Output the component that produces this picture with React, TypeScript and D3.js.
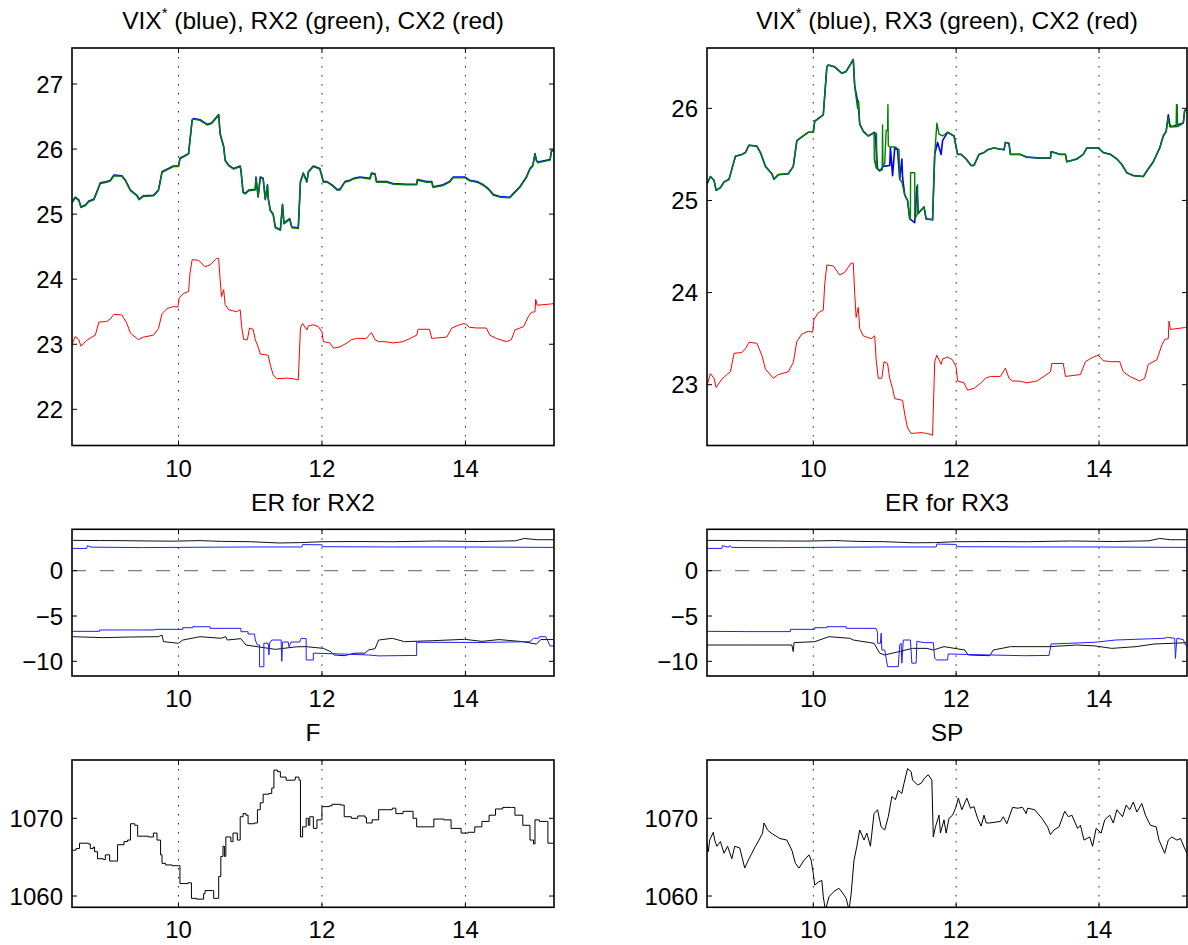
import React from 'react';
import * as d3 from 'd3';

type Pt = [number, number];

// hours on the x axis
const xTicks = [10, 12, 14];

// VIX* (blue), same series in both top panels
const vix: Pt[] = [
  [8.52,25.19],[8.56,25.26],[8.61,25.22],[8.64,25.11],[8.70,25.14],[8.75,25.20],[8.82,25.23],[8.86,25.34],[8.91,25.48],[9.00,25.50],
  [9.05,25.52],[9.10,25.60],[9.21,25.59],[9.26,25.52],[9.33,25.37],[9.42,25.29],[9.45,25.23],[9.51,25.28],[9.65,25.29],[9.72,25.37],
  [9.77,25.65],[9.84,25.69],[9.93,25.74],[10.00,25.74],[10.02,25.86],[10.14,25.93],[10.19,26.45],[10.21,26.47],[10.30,26.45],[10.40,26.38],
  [10.46,26.40],[10.56,26.53],[10.58,26.24],[10.63,26.04],[10.65,25.83],[10.70,25.75],[10.77,25.70],[10.86,25.74],[10.87,25.68],[10.90,25.34],
  [10.93,25.32],[10.98,25.37],[11.07,25.38],[11.08,25.57],[11.11,25.27],[11.14,25.57],[11.18,25.55],[11.21,25.23],[11.24,25.45],[11.25,25.25],
  [11.28,25.06],[11.32,25.00],[11.35,24.80],[11.42,24.76],[11.45,25.15],[11.47,24.86],[11.55,24.93],[11.58,24.80],[11.67,24.79],[11.70,25.50],
  [11.74,25.63],[11.79,25.50],[11.81,25.65],[11.88,25.74],[11.97,25.70],[12.02,25.50],[12.07,25.50],[12.14,25.45],[12.21,25.38],[12.25,25.38],
  [12.32,25.50],[12.39,25.52],[12.44,25.55],[12.53,25.57],[12.67,25.55],[12.69,25.63],[12.74,25.62],[12.76,25.50],[12.90,25.50],[12.99,25.47],
  [13.18,25.46],[13.32,25.46],[13.33,25.53],[13.46,25.50],[13.53,25.50],[13.55,25.42],[13.69,25.45],[13.78,25.50],[13.83,25.57],[13.99,25.57],
  [14.06,25.52],[14.16,25.50],[14.25,25.45],[14.32,25.39],[14.39,25.30],[14.48,25.27],[14.62,25.26],[14.67,25.32],[14.76,25.42],[14.85,25.57],
  [14.90,25.70],[14.94,25.75],[14.97,25.93],[14.99,25.83],[15.01,25.80],[15.18,25.84],[15.20,25.98],[15.24,25.98],
];

// RX2 (green), left top panel
const rx2: Pt[] = [
  [8.52,25.18],[8.56,25.25],[8.61,25.21],[8.64,25.10],[8.70,25.13],[8.75,25.19],[8.82,25.22],[8.86,25.33],[8.91,25.47],[9.00,25.49],
  [9.05,25.51],[9.10,25.59],[9.21,25.58],[9.26,25.51],[9.33,25.36],[9.42,25.28],[9.45,25.22],[9.51,25.27],[9.65,25.28],[9.72,25.36],
  [9.77,25.64],[9.84,25.68],[9.93,25.73],[10.00,25.73],[10.02,25.85],[10.14,25.92],[10.19,26.44],[10.21,26.46],[10.30,26.44],[10.40,26.37],
  [10.46,26.39],[10.56,26.52],[10.58,26.23],[10.63,26.03],[10.65,25.82],[10.70,25.74],[10.77,25.69],[10.86,25.73],[10.87,25.67],[10.90,25.33],
  [10.93,25.31],[10.98,25.36],[11.07,25.37],[11.08,25.56],[11.11,25.26],[11.14,25.56],[11.18,25.54],[11.21,25.22],[11.24,25.44],[11.25,25.24],
  [11.28,25.05],[11.32,24.99],[11.35,24.79],[11.42,24.75],[11.45,25.14],[11.47,24.85],[11.55,24.92],[11.58,24.79],[11.67,24.78],[11.70,25.49],
  [11.74,25.62],[11.79,25.49],[11.81,25.64],[11.88,25.73],[11.97,25.69],[12.02,25.49],[12.07,25.49],[12.14,25.44],[12.21,25.37],[12.25,25.37],
  [12.32,25.49],[12.39,25.51],[12.44,25.54],[12.53,25.56],[12.67,25.54],[12.69,25.62],[12.74,25.61],[12.76,25.49],[12.90,25.49],[12.99,25.46],
  [13.18,25.45],[13.32,25.45],[13.33,25.52],[13.46,25.49],[13.53,25.49],[13.55,25.41],[13.69,25.44],[13.78,25.49],[13.83,25.56],[13.99,25.56],
  [14.06,25.51],[14.16,25.49],[14.25,25.44],[14.32,25.38],[14.39,25.29],[14.48,25.26],[14.62,25.25],[14.67,25.31],[14.76,25.41],[14.85,25.56],
  [14.90,25.69],[14.94,25.74],[14.97,25.92],[14.99,25.82],[15.01,25.79],[15.18,25.83],[15.20,25.97],[15.24,25.97],
];

// RX3 (green), right top panel
const rx3: Pt[] = [
  [8.51,25.18],[8.56,25.26],[8.61,25.22],[8.64,25.11],[8.70,25.14],[8.75,25.20],[8.82,25.23],[8.86,25.34],[8.91,25.48],[9.00,25.50],
  [9.05,25.52],[9.10,25.60],[9.21,25.59],[9.26,25.52],[9.33,25.37],[9.42,25.29],[9.45,25.23],[9.51,25.28],[9.65,25.29],[9.72,25.37],
  [9.77,25.65],[9.84,25.69],[9.93,25.74],[10.00,25.74],[10.02,25.86],[10.14,25.93],[10.19,26.45],[10.21,26.47],[10.30,26.45],[10.40,26.38],
  [10.46,26.40],[10.56,26.53],[10.58,26.24],[10.62,26.00],[10.635,26.08],[10.645,25.90],[10.65,25.83],[10.70,25.75],[10.77,25.70],[10.84,25.73],
  [10.85,25.73],[10.855,25.44],[10.88,25.35],[10.885,25.73],[10.89,25.35],[10.93,25.33],[10.965,25.33],[10.97,25.82],[10.975,25.38],[11.00,25.40],
  [11.02,25.76],[11.04,25.76],[11.045,26.04],[11.05,25.60],[11.07,25.58],[11.15,25.58],[11.20,25.55],[11.21,25.23],[11.24,25.20],[11.28,25.06],
  [11.32,25.00],[11.35,24.80],[11.36,24.80],[11.362,25.30],[11.42,25.30],[11.422,24.80],[11.455,24.85],[11.46,25.17],[11.465,24.86],[11.55,24.93],
  [11.58,24.80],[11.67,24.79],[11.70,25.50],[11.73,25.84],[11.76,25.72],[11.81,25.70],[11.88,25.74],[11.97,25.70],[12.02,25.50],[12.07,25.50],
  [12.14,25.45],[12.21,25.38],[12.25,25.38],[12.32,25.50],[12.39,25.52],[12.44,25.55],[12.53,25.57],[12.67,25.55],[12.69,25.63],[12.74,25.62],
  [12.76,25.50],[12.90,25.50],[12.99,25.47],[13.18,25.46],[13.32,25.46],[13.33,25.53],[13.46,25.50],[13.53,25.50],[13.55,25.42],[13.69,25.45],
  [13.78,25.50],[13.83,25.57],[13.99,25.57],[14.06,25.52],[14.16,25.50],[14.25,25.45],[14.32,25.39],[14.39,25.30],[14.48,25.27],[14.62,25.26],
  [14.67,25.32],[14.76,25.42],[14.85,25.57],[14.90,25.70],[14.94,25.75],[14.97,25.90],[14.99,25.80],[15.08,25.80],[15.085,26.04],[15.095,26.04],
  [15.10,25.80],[15.18,25.84],[15.20,25.98],[15.23,25.99],
];

// CX2 (red), same series in both top panels
const cx2: Pt[] = [
  [8.51,22.98],[8.52,23.01],[8.56,23.12],[8.61,23.07],[8.64,22.97],[8.72,23.06],[8.79,23.11],[8.84,23.14],[8.89,23.34],[9.00,23.35],[9.05,23.39],
  [9.10,23.46],[9.21,23.45],[9.28,23.32],[9.33,23.17],[9.44,23.07],[9.51,23.11],[9.65,23.14],[9.72,23.24],[9.77,23.47],[9.84,23.55],
  [9.93,23.58],[9.99,23.57],[10.01,23.71],[10.07,23.78],[10.14,23.81],[10.16,24.09],[10.19,24.30],[10.28,24.29],[10.37,24.19],[10.44,24.22],
  [10.53,24.32],[10.56,24.32],[10.58,23.99],[10.60,23.73],[10.63,23.84],[10.65,23.61],[10.70,23.53],[10.81,23.50],[10.86,23.53],[10.88,23.27],
  [10.91,23.07],[10.96,23.07],[10.99,23.25],[11.04,23.23],[11.07,23.07],[11.11,22.96],[11.14,22.85],[11.25,22.83],[11.28,22.68],[11.32,22.53],
  [11.37,22.47],[11.51,22.48],[11.60,22.47],[11.67,22.45],[11.70,23.25],[11.73,23.32],[11.79,23.22],[11.81,23.28],[11.88,23.30],[11.95,23.27],
  [12.00,23.19],[12.02,23.04],[12.11,23.02],[12.16,22.94],[12.25,22.96],[12.35,23.02],[12.41,23.07],[12.48,23.09],[12.62,23.09],[12.69,23.18],
  [12.74,23.07],[12.79,23.04],[12.88,23.04],[12.99,23.02],[13.13,23.04],[13.23,23.09],[13.32,23.14],[13.34,23.23],[13.50,23.23],[13.53,23.09],
  [13.74,23.11],[13.81,23.25],[13.92,23.30],[13.99,23.32],[14.06,23.26],[14.16,23.25],[14.29,23.25],[14.34,23.14],[14.43,23.09],[14.57,23.04],
  [14.64,23.07],[14.69,23.22],[14.81,23.27],[14.88,23.43],[14.92,23.49],[14.97,23.50],[14.98,23.69],[15.00,23.60],[15.20,23.62],[15.24,23.63],
];

// ER for RX2
const er2UpperBlack: Pt[] = [
  [8.52,3.35],[8.9,3.33],[9.2,3.32],[9.6,3.28],[9.9,3.26],[10.3,3.32],[10.6,3.24],[11.0,3.2],[11.4,3.06],[11.7,3.1],[12.0,3.2],
  [12.5,3.22],[13.0,3.2],[13.6,3.28],[14.2,3.22],[14.7,3.3],[14.82,3.56],[15.0,3.42],[15.24,3.42],
];
const er2UpperBlue: Pt[] = [
  [8.52,2.46],[8.72,2.46],[8.73,2.76],[8.78,2.6],[9.5,2.55],[10.5,2.6],[11.0,2.62],[11.72,2.62],[11.73,2.88],[12.0,2.86],
  [12.01,2.65],[13.0,2.62],[14.0,2.62],[15.24,2.57],
];
const er2LowerBlue: Pt[] = [
  [8.52,-6.69],[8.9,-6.69],[8.9,-6.54],[9.67,-6.54],[9.67,-6.47],[10.06,-6.47],[10.06,-6.29],[10.2,-6.29],[10.2,-6.18],[10.44,-6.18],
  [10.44,-6.36],[10.87,-6.36],[10.87,-6.73],[10.97,-6.73],[10.97,-6.99],[11.06,-6.99],[11.07,-7.65],[11.1,-8.2],[11.13,-8.2],[11.13,-10.6],
  [11.19,-10.6],[11.19,-8.0],[11.25,-8.0],[11.26,-9.3],[11.27,-8.0],[11.3,-7.65],[11.43,-7.65],[11.44,-10.0],[11.45,-7.87],[11.53,-7.87],
  [11.54,-8.4],[11.57,-7.87],[11.69,-7.87],[11.71,-7.46],[11.78,-7.5],[11.78,-9.85],[11.88,-9.85],[11.88,-9.1],[12.31,-9.2],[12.65,-9.3],
  [12.79,-9.4],[13.32,-9.35],[13.32,-7.9],[14.23,-7.92],[14.9,-7.83],[14.95,-7.46],[15.02,-7.46],[15.03,-7.28],[15.12,-7.28],[15.14,-7.6],
  [15.18,-8.3],[15.24,-8.3],
];
const er2LowerBlack: Pt[] = [
  [8.52,-7.28],[8.95,-7.39],[9.3,-7.32],[9.72,-7.28],[9.77,-7.1],[9.79,-7.83],[10.0,-8.01],[10.06,-7.65],[10.3,-7.28],[10.59,-7.46],
  [10.66,-7.28],[10.68,-7.65],[10.87,-7.5],[10.94,-8.2],[11.11,-8.4],[11.35,-8.68],[11.64,-8.4],[11.78,-8.38],[12.02,-8.57],[12.12,-8.93],
  [12.17,-9.3],[12.31,-9.38],[12.46,-9.1],[12.6,-9.1],[12.65,-8.75],[12.74,-8.6],[12.79,-7.65],[12.98,-7.46],[13.15,-7.83],[13.56,-7.72],
  [13.99,-7.57],[14.23,-7.8],[14.47,-7.6],[14.8,-7.83],[14.99,-8.1],[15.05,-7.6],[15.24,-7.6],
];

// ER for RX3
const er3UpperBlack: Pt[] = [
  [8.51,3.35],[8.9,3.33],[9.2,3.3],[9.6,3.28],[9.9,3.27],[10.3,3.33],[10.6,3.24],[11.0,3.2],[11.4,3.08],[11.7,3.1],[12.0,3.2],
  [12.5,3.22],[13.0,3.2],[13.6,3.28],[14.2,3.22],[14.7,3.3],[14.85,3.56],[15.0,3.42],[15.23,3.42],
];
const er3UpperBlue: Pt[] = [
  [8.51,2.46],[8.72,2.46],[8.73,2.76],[8.8,2.62],[8.82,2.62],[8.83,2.76],[8.86,2.57],[9.5,2.55],[10.5,2.6],[11.0,2.62],
  [11.72,2.62],[11.73,2.94],[12.0,2.9],[12.01,2.65],[13.0,2.62],[14.0,2.62],[15.23,2.57],
];
const er3LowerBlue: Pt[] = [
  [8.51,-6.69],[9.04,-6.72],[9.68,-6.72],[9.68,-6.47],[10.02,-6.47],[10.02,-6.29],[10.19,-6.29],[10.19,-6.18],[10.46,-6.18],[10.46,-6.36],
  [10.88,-6.36],[10.9,-6.84],[10.9,-8.0],[10.94,-8.0],[10.95,-6.9],[10.96,-8.75],[11.0,-8.75],[11.04,-10.59],[11.19,-10.59],[11.21,-8.2],
  [11.23,-8.0],[11.24,-10.2],[11.26,-7.65],[11.36,-7.65],[11.38,-10.2],[11.44,-10.2],[11.45,-7.8],[11.56,-7.94],[11.68,-7.94],[11.7,-9.67],
  [11.73,-9.85],[11.88,-9.85],[11.89,-9.19],[12.47,-9.3],[12.96,-9.38],[13.3,-9.35],[13.33,-8.09],[13.94,-7.9],[14.23,-7.65],[14.91,-7.46],
  [14.96,-7.35],[15.06,-7.46],[15.07,-9.67],[15.09,-7.46],[15.18,-7.6],[15.21,-8.2],[15.23,-8.2],
];
const er3LowerBlack: Pt[] = [
  [8.51,-8.2],[9.04,-8.2],[9.7,-8.2],[9.72,-8.93],[9.73,-7.94],[10.02,-7.83],[10.22,-7.28],[10.51,-7.46],[10.56,-7.65],[10.85,-8.01],
  [10.93,-9.1],[11.0,-9.3],[11.2,-8.93],[11.39,-8.57],[11.59,-8.57],[11.68,-8.75],[11.83,-8.38],[12.12,-8.75],[12.17,-9.3],[12.47,-9.38],
  [12.52,-8.75],[12.76,-8.38],[13.3,-8.38],[13.69,-8.2],[13.94,-8.3],[14.18,-8.57],[14.52,-8.38],[14.77,-8.09],[15.06,-8.0],[15.23,-7.94],
];

// F
const fut: Pt[] = [
  [8.52,1065.9],[8.57,1066.1],[8.62,1066.8],[8.74,1066.7],[8.77,1066.1],[8.81,1066.3],[8.83,1065.7],[8.87,1064.8],[8.95,1064.7],[8.98,1065.3],
  [9.04,1064.5],[9.12,1064.5],[9.15,1066.6],[9.24,1067.0],[9.29,1067.2],[9.33,1069.3],[9.39,1069.1],[9.43,1067.7],[9.58,1067.6],[9.65,1068.1],
  [9.70,1067.2],[9.75,1065.3],[9.77,1064.2],[9.82,1064.0],[9.91,1063.9],[10.00,1063.9],[10.02,1061.6],[10.13,1061.7],[10.18,1059.7],[10.25,1059.6],
  [10.35,1060.3],[10.37,1060.7],[10.47,1060.7],[10.49,1059.7],[10.54,1059.7],[10.56,1062.5],[10.59,1065.1],[10.62,1066.4],[10.64,1065.1],[10.66,1067.6],
  [10.73,1067.0],[10.76,1068.1],[10.82,1067.2],[10.86,1070.2],[10.90,1070.6],[10.94,1070.4],[10.97,1069.3],[11.06,1069.4],[11.10,1071.1],[11.14,1072.0],
  [11.18,1073.1],[11.26,1073.2],[11.30,1073.9],[11.33,1076.2],[11.38,1076.0],[11.42,1075.3],[11.50,1074.9],[11.62,1075.0],[11.63,1075.3],[11.68,1074.9],
  [11.70,1067.6],[11.73,1068.9],[11.78,1070.0],[11.81,1069.1],[11.83,1070.2],[11.88,1068.7],[11.93,1069.8],[12.00,1071.5],[12.10,1071.6],[12.14,1071.8],
  [12.26,1071.7],[12.31,1070.2],[12.41,1070.0],[12.50,1070.3],[12.60,1070.1],[12.62,1069.4],[12.70,1069.8],[12.79,1071.1],[12.98,1071.3],[13.03,1070.6],
  [13.13,1070.9],[13.27,1070.0],[13.32,1068.9],[13.51,1068.9],[13.56,1069.9],[13.70,1069.8],[13.80,1068.7],[13.94,1068.1],[14.04,1068.2],[14.13,1068.9],
  [14.23,1069.6],[14.33,1070.4],[14.42,1071.2],[14.52,1071.4],[14.64,1071.4],[14.69,1070.4],[14.80,1069.1],[14.90,1067.2],[14.95,1066.7],[14.97,1069.8],
  [15.03,1069.6],[15.13,1069.6],[15.15,1066.8],[15.24,1066.8],
];

// SP
const sp: Pt[] = [
  [8.51,1066.8],[8.53,1065.7],[8.55,1067.2],[8.60,1068.2],[8.62,1067.2],[8.65,1066.4],[8.70,1067.0],[8.75,1065.5],[8.80,1066.4],[8.86,1064.8],
  [8.90,1066.4],[8.97,1066.2],[9.04,1063.6],[9.09,1064.6],[9.14,1065.5],[9.19,1066.4],[9.24,1067.2],[9.29,1068.1],[9.31,1069.4],[9.36,1068.5],
  [9.41,1068.1],[9.48,1067.7],[9.53,1067.4],[9.63,1067.2],[9.70,1065.9],[9.75,1064.2],[9.80,1063.6],[9.87,1064.6],[9.94,1065.3],[9.97,1064.6],
  [10.00,1062.9],[10.02,1061.4],[10.07,1061.8],[10.12,1062.0],[10.14,1059.9],[10.17,1058.2],[10.22,1059.9],[10.29,1060.6],[10.36,1061.0],[10.41,1060.4],
  [10.46,1059.7],[10.50,1058.2],[10.53,1060.3],[10.57,1064.6],[10.61,1066.4],[10.65,1068.5],[10.71,1067.2],[10.75,1068.1],[10.80,1066.4],[10.85,1070.6],
  [10.90,1071.1],[10.95,1068.9],[11.00,1068.5],[11.05,1070.2],[11.10,1072.8],[11.15,1072.4],[11.19,1073.6],[11.24,1073.2],[11.27,1074.5],[11.32,1076.4],
  [11.37,1076.0],[11.39,1074.9],[11.46,1074.3],[11.51,1074.5],[11.56,1075.2],[11.61,1075.6],[11.66,1074.9],[11.68,1067.6],[11.71,1068.9],[11.76,1070.4],
  [11.78,1068.1],[11.83,1069.8],[11.86,1068.1],[11.90,1070.0],[11.95,1070.4],[12.00,1071.5],[12.03,1072.6],[12.08,1071.1],[12.15,1072.6],[12.20,1071.3],
  [12.25,1071.5],[12.30,1070.0],[12.35,1069.0],[12.39,1070.4],[12.42,1069.4],[12.47,1069.4],[12.62,1069.6],[12.66,1070.2],[12.71,1069.3],[12.79,1071.4],
  [12.86,1071.3],[12.93,1071.4],[12.98,1070.6],[13.00,1071.3],[13.10,1071.1],[13.20,1070.0],[13.28,1068.9],[13.32,1067.9],[13.37,1068.5],[13.44,1068.9],
  [13.52,1070.9],[13.57,1070.2],[13.62,1070.4],[13.70,1068.7],[13.74,1069.1],[13.79,1067.2],[13.87,1067.6],[13.91,1066.4],[13.96,1068.7],[14.03,1068.1],
  [14.08,1069.8],[14.15,1070.4],[14.20,1069.4],[14.25,1071.1],[14.33,1070.2],[14.38,1071.7],[14.43,1071.1],[14.48,1072.1],[14.53,1070.8],[14.60,1071.9],
  [14.65,1070.4],[14.72,1069.1],[14.80,1068.9],[14.84,1067.2],[14.92,1065.5],[14.97,1067.2],[15.02,1067.6],[15.09,1067.2],[15.14,1067.4],[15.21,1065.9],
  [15.23,1065.5],
];

const topLeftTicks = [22, 23, 24, 25, 26, 27];
const topRightTicks = [23, 24, 25, 26];
const erTicks = [-10, -5, 0];
const priceTicks = [1060, 1070];

const FONT = '"Liberation Sans", Arial, Helvetica, sans-serif';

type Series = { data: Pt[]; color: string; width: number; step?: boolean };

interface PanelProps {
  id: string;
  x0: number; x1: number; y0: number; y1: number;
  xDomain: [number, number];
  yDomain: [number, number];
  yTicks: number[];
  title: React.ReactNode;
  series: Series[];
  zeroLine?: boolean;
}

const fmt = (v: number) => String(v).replace('-', '\u2212');

function Panel({ id, x0, x1, y0, y1, xDomain, yDomain, yTicks, title, series, zeroLine }: PanelProps) {
  const x = d3.scaleLinear().domain(xDomain).range([x0, x1]);
  const y = d3.scaleLinear().domain(yDomain).range([y1, y0]);
  const line = d3.line<Pt>().x(d => x(d[0])).y(d => y(d[1]));
  const stepLine = d3.line<Pt>().x(d => x(d[0])).y(d => y(d[1])).curve(d3.curveStepAfter);
  const tl = 5;

  return (
    <g>
      <defs>
        <clipPath id={id}>
          <rect x={x0} y={y0} width={x1 - x0} height={y1 - y0} />
        </clipPath>
      </defs>
      <text x={(x0 + x1) / 2} y={y0 - 18.7} textAnchor="middle" fontSize={24.5} fill="#000">{title}</text>

      {/* dotted x grid */}
      {xTicks.map(t => (
        <line key={'g' + t} x1={x(t)} x2={x(t)} y1={y0} y2={y1} stroke="#222" strokeWidth={1} strokeDasharray="1.5,7.5" />
      ))}

      {zeroLine && (
        <line x1={x0} x2={x1} y1={y(0)} y2={y(0)} stroke="#7f7f7f" strokeWidth={1.3} strokeDasharray="14,14" />
      )}

      <g clipPath={`url(#${id})`}>
        {series.map((s, i) => (
          <path key={i} d={(s.step ? stepLine : line)(s.data) || ''} fill="none" stroke={s.color} strokeWidth={s.width} strokeLinejoin="round" />
        ))}
      </g>

      {/* ticks on all four sides */}
      {xTicks.map(t => (
        <g key={'xt' + t}>
          <line x1={x(t)} x2={x(t)} y1={y1} y2={y1 - tl} stroke="#000" />
          <line x1={x(t)} x2={x(t)} y1={y0} y2={y0 + tl} stroke="#000" />
          <text x={x(t)} y={y1 + 31} textAnchor="middle" fontSize={24} fill="#000">{t}</text>
        </g>
      ))}
      {yTicks.map(t => (
        <g key={'yt' + t}>
          <line x1={x0} x2={x0 + tl} y1={y(t)} y2={y(t)} stroke="#000" />
          <line x1={x1} x2={x1 - tl} y1={y(t)} y2={y(t)} stroke="#000" />
          <text x={x0 - 9} y={y(t) + 8.7} textAnchor="end" fontSize={24} fill="#000">{fmt(t)}</text>
        </g>
      ))}

      <rect x={x0} y={y0} width={x1 - x0} height={y1 - y0} fill="none" stroke="#000" strokeWidth={1.6} />
    </g>
  );
}

const vixTitle = (rx: string) => (
  <>
    <tspan>VIX</tspan>
    <tspan dy={-11} fontSize={15}>*</tspan>
    <tspan dy={11}>{` (blue), ${rx} (green), CX2 (red)`}</tspan>
  </>
);

export default function App() {
  const L = { x0: 72, x1: 554, xDomain: [8.515, 15.235] as [number, number] };
  const R = { x0: 707, x1: 1187, xDomain: [8.512, 15.232] as [number, number] };
  const rowTop = { y0: 48, y1: 445.5 };
  const rowMid = { y0: 529.3, y1: 676 };
  const rowBot = { y0: 760, y1: 907.3 };

  const blue = '#0000ff';
  const green = '#008000';
  const red = '#ff0000';
  const erBlue = '#1f1fff';
  const erBlack = '#111';

  return (
    <svg width={1188} height={945} style={{ position: 'absolute', left: 0, top: 0, background: '#fff' }} fontFamily={FONT}>
      <rect x={0} y={0} width={1188} height={945} fill="#fff" />
      <Panel id="c1" {...L} {...rowTop} yDomain={[21.444, 27.553]} yTicks={topLeftTicks}
        title={vixTitle('RX2')}
        series={[
          { data: vix, color: blue, width: 1.6 },
          { data: rx2, color: green, width: 1.4 },
          { data: cx2, color: red, width: 1 },
        ]} />
      <Panel id="c2" {...R} {...rowTop} yDomain={[22.34, 26.655]} yTicks={topRightTicks}
        title={vixTitle('RX3')}
        series={[
          { data: vix, color: blue, width: 1.6 },
          { data: rx3, color: green, width: 1.4 },
          { data: cx2, color: red, width: 1 },
        ]} />
      <Panel id="c3" {...L} {...rowMid} yDomain={[-11.62, 4.57]} yTicks={erTicks} zeroLine
        title="ER for RX2"
        series={[
          { data: er2UpperBlack, color: erBlack, width: 1 },
          { data: er2UpperBlue, color: erBlue, width: 1 },
          { data: er2LowerBlack, color: erBlack, width: 1 },
          { data: er2LowerBlue, color: erBlue, width: 1 },
        ]} />
      <Panel id="c4" {...R} {...rowMid} yDomain={[-11.62, 4.57]} yTicks={erTicks} zeroLine
        title="ER for RX3"
        series={[
          { data: er3UpperBlack, color: erBlack, width: 1 },
          { data: er3UpperBlue, color: erBlue, width: 1 },
          { data: er3LowerBlack, color: erBlack, width: 1 },
          { data: er3LowerBlue, color: erBlue, width: 1 },
        ]} />
      <Panel id="c5" {...L} {...rowBot} yDomain={[1058.55, 1077.5]} yTicks={priceTicks}
        title="F"
        series={[{ data: fut, color: '#000', width: 1, step: true }]} />
      <Panel id="c6" {...R} {...rowBot} yDomain={[1058.55, 1077.5]} yTicks={priceTicks}
        title="SP"
        series={[{ data: sp, color: '#000', width: 1 }]} />
    </svg>
  );
}
